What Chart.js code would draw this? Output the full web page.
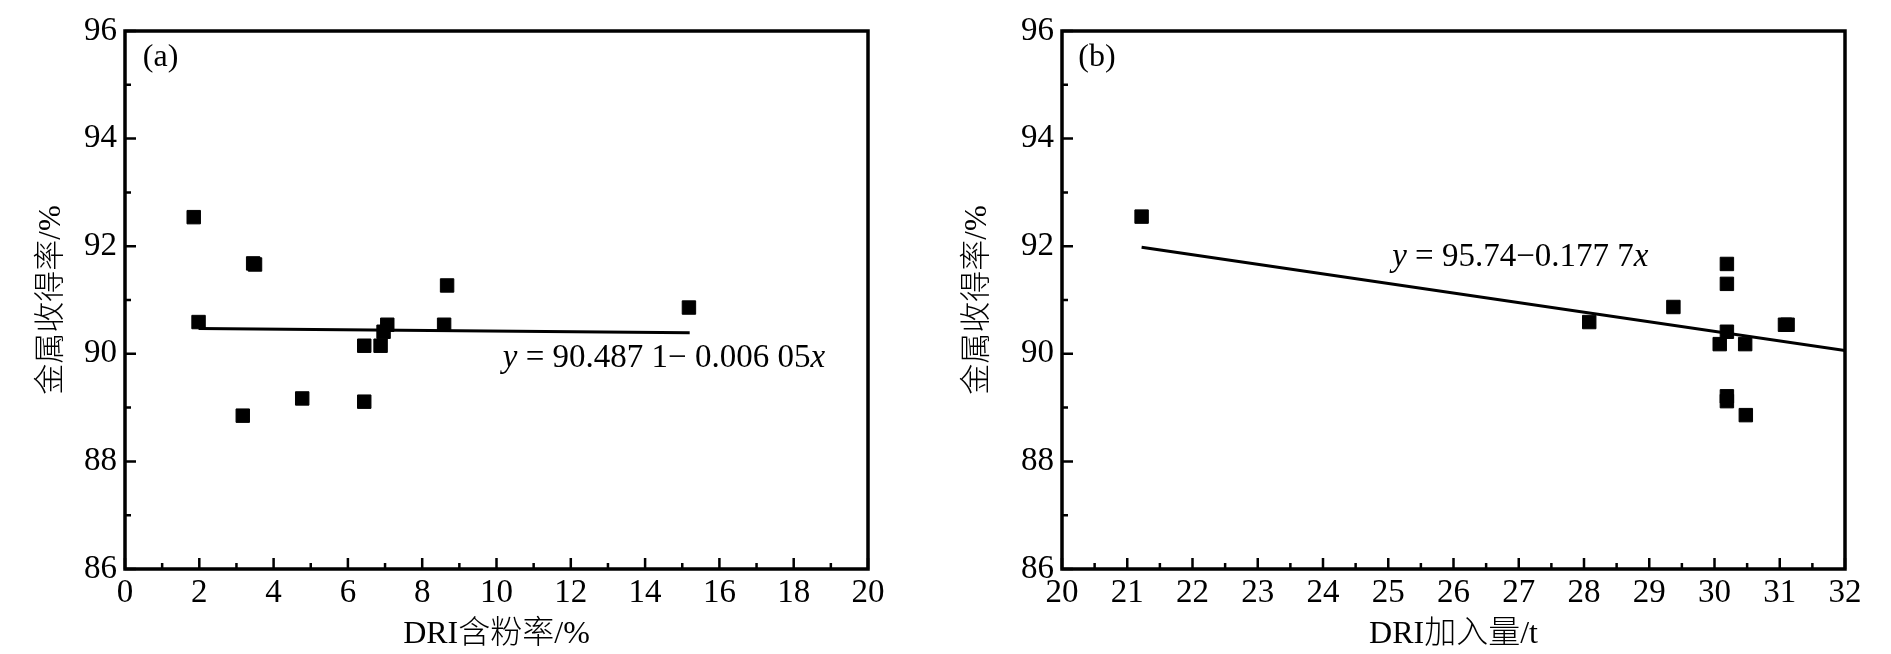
<!DOCTYPE html>
<html>
<head>
<meta charset="utf-8">
<script src="https://cdn.jsdelivr.net/npm/chart.js@4.4.1/dist/chart.umd.min.js"></script>
<style>
html, body { margin: 0; padding: 0; background: #fff; overflow: hidden; }
#wrap { position: relative; width: 1891px; height: 654px; }
.panel { position: absolute; top: 0; height: 654px; }
</style>
</head>
<body>
<div id="wrap">
  <div class="panel" style="left:0;width:945px"><canvas id="chartA" width="945" height="654"></canvas></div>
  <div class="panel" style="left:945px;width:946px"><canvas id="chartB" width="946" height="654"></canvas></div>
</div>
<script>
"use strict"

// (a) DRI含粉率 vs 金属收得率
const xFines = [1.85, 1.98, 3.17, 3.45, 3.50, 4.77, 6.44, 6.44, 6.88, 6.96, 7.06, 8.59, 8.67, 15.18];
const yYieldA = [92.54, 90.59, 88.85, 91.68, 91.66, 89.17, 90.15, 89.11, 90.15, 90.41, 90.54, 90.54, 91.27, 90.86];
const fitAx = [1.98, 15.2];
const fitAy = [90.47, 90.39];

// (b) DRI加入量 vs 金属收得率
const xCharge = [21.22, 28.08, 29.37, 30.08, 30.19, 30.19, 30.19, 30.19, 30.19, 30.47, 30.48, 31.08, 31.12];
const yYieldB = [92.55, 90.59, 90.87, 90.18, 91.67, 91.30, 90.41, 89.21, 89.12, 90.18, 88.86, 90.54, 90.54];
const fitBx = [21.22, 32];
const fitBy = [91.98, 90.06];

// axes
const yTicks = [86, 88, 90, 92, 94, 96];
const xTicksA = [0, 2, 4, 6, 8, 10, 12, 14, 16, 18, 20];
const xTicksB = [20, 21, 22, 23, 24, 25, 26, 27, 28, 29, 30, 31, 32];

const yTitle = "金属收得率/%";
const xTitleA = "DRI含粉率/%";
const xTitleB = "DRI加入量/t";

const SERIF = '"Liberation Serif", "Noto Sans CJK SC", serif';

function toPoints(xs, ys) {
    return xs.map((x, i) => ({x: x, y: ys[i]}));
}

// frame + inward ticks (major and minor) like the origin-style plot
const frameTicks = {
    id: 'frameTicks',
    afterDraw(chart) {
        const ctx = chart.ctx;
        const a = chart.chartArea;
        const xs = chart.scales.x, ys = chart.scales.y;
        ctx.save();
        ctx.strokeStyle = '#000';
        ctx.lineWidth = 2.5;
        ctx.beginPath();
        let xv = xs.ticks.map(t => t.value);
        for (let i = 0; i < xv.length; i++) {
            let px = xs.getPixelForValue(xv[i]);
            ctx.moveTo(px, a.bottom);
            ctx.lineTo(px, a.bottom - 11);
            if (i < xv.length - 1) {
                let pm = xs.getPixelForValue((xv[i] + xv[i + 1]) / 2);
                ctx.moveTo(pm, a.bottom);
                ctx.lineTo(pm, a.bottom - 6);
            }
        }
        let yv = ys.ticks.map(t => t.value);
        for (let i = 0; i < yv.length; i++) {
            let py = ys.getPixelForValue(yv[i]);
            ctx.moveTo(a.left, py);
            ctx.lineTo(a.left + 11, py);
            if (i < yv.length - 1) {
                let pm = ys.getPixelForValue((yv[i] + yv[i + 1]) / 2);
                ctx.moveTo(a.left, pm);
                ctx.lineTo(a.left + 6, pm);
            }
        }
        ctx.stroke();
        ctx.lineWidth = 3.5;
        ctx.strokeRect(a.left, a.top, a.right - a.left, a.bottom - a.top);
        ctx.restore();
    }
};

// text notes placed in data coordinates
const notes = {
    id: 'notes',
    afterDatasetsDraw(chart, args, opts) {
        const ctx = chart.ctx;
        const xs = chart.scales.x, ys = chart.scales.y;
        ctx.save();
        ctx.fillStyle = '#000';
        ctx.textBaseline = 'middle';
        ctx.textAlign = 'left';
        (opts.items || []).forEach(item => {
            let px = xs.getPixelForValue(item.x);
            let py = ys.getPixelForValue(item.y);
            item.parts.forEach(p => {
                ctx.font = (p[1] === 'i' ? 'italic ' : '') + item.size + 'px ' + SERIF;
                ctx.fillText(p[0], px, py);
                px += ctx.measureText(p[0]).width;
            });
        });
        ctx.restore();
    }
};

let makePanel = function(id, pts, fit, xMin, xMax, xTicks, xTitle, layout, yTitlePad, noteItems) {
    const canvas = document.getElementById(id);
    return new Chart(canvas, {
        type: 'scatter',
        data: {
            datasets: [{
                data: pts,
                pointStyle: 'rect',
                pointRadius: 9.5,
                pointHoverRadius: 9.5,
                backgroundColor: '#000',
                borderColor: '#000',
                borderWidth: 1,
                order: 0
            }, {
                type: 'line',
                data: fit,
                borderColor: '#000',
                borderWidth: 3,
                pointRadius: 0,
                fill: false,
                order: 1
            }]
        },
        options: {
            responsive: false,
            animation: false,
            devicePixelRatio: 1,
            layout: {padding: layout.padding},
            plugins: {
                legend: {display: false},
                tooltip: {enabled: false},
                notes: {items: noteItems}
            },
            scales: {
                x: {
                    type: 'linear',
                    min: xMin,
                    max: xMax,
                    afterBuildTicks: s => { s.ticks = xTicks.map(v => ({value: v})); },
                    afterFit: s => { s.height = layout.xHeight; },
                    grid: {display: false, drawTicks: false},
                    border: {display: false},
                    ticks: {
                        color: '#000',
                        padding: 5,
                        maxRotation: 0,
                        autoSkip: false,
                        font: {family: SERIF, size: 33}
                    },
                    title: {
                        display: true,
                        text: xTitle,
                        color: '#000',
                        font: {family: SERIF, size: 32, weight: '300', lineHeight: 1.2},
                        padding: {top: 0, bottom: 0}
                    }
                },
                y: {
                    type: 'linear',
                    min: 86,
                    max: 96,
                    afterBuildTicks: s => { s.ticks = yTicks.map(v => ({value: v})); },
                    afterFit: s => { s.width = layout.yWidth; },
                    grid: {display: false, drawTicks: false},
                    border: {display: false},
                    ticks: {
                        color: '#000',
                        padding: 8,
                        font: {family: SERIF, size: 33}
                    },
                    title: {
                        display: true,
                        text: yTitle,
                        color: '#000',
                        font: {family: SERIF, size: 31, weight: '300', lineHeight: 1.2},
                        padding: {top: yTitlePad, bottom: 0}
                    }
                }
            }
        },
        plugins: [frameTicks, notes]
    });
}

window.onload = function () {
    makePanel('chartA', toPoints(xFines, yYieldA), toPoints(fitAx, fitAy), 0, 20, xTicksA, xTitleA,
        {padding: {top: 31, right: 77, bottom: 0, left: 0}, yWidth: 125, xHeight: 85}, 33,
        [
            {x: 0.48, y: 95.5, size: 32, parts: [['(a)', 'n']]},
            {x: 10.17, y: 89.92, size: 33, parts: [['y', 'i'], [' = 90.487 1\u2212 0.006 05', 'n'], ['x', 'i']]}
        ]);
    makePanel('chartB', toPoints(xCharge, yYieldB), toPoints(fitBx, fitBy), 20, 32, xTicksB, xTitleB,
        {padding: {top: 31, right: 46, bottom: 0, left: 0}, yWidth: 117, xHeight: 85}, 14,
        [
            {x: 20.25, y: 95.5, size: 32, parts: [['(b)', 'n']]},
            {x: 25.06, y: 91.8, size: 33, parts: [['y', 'i'], [' = 95.74\u22120.177 7', 'n'], ['x', 'i']]}
        ]);
}
</script>
</body>
</html>
